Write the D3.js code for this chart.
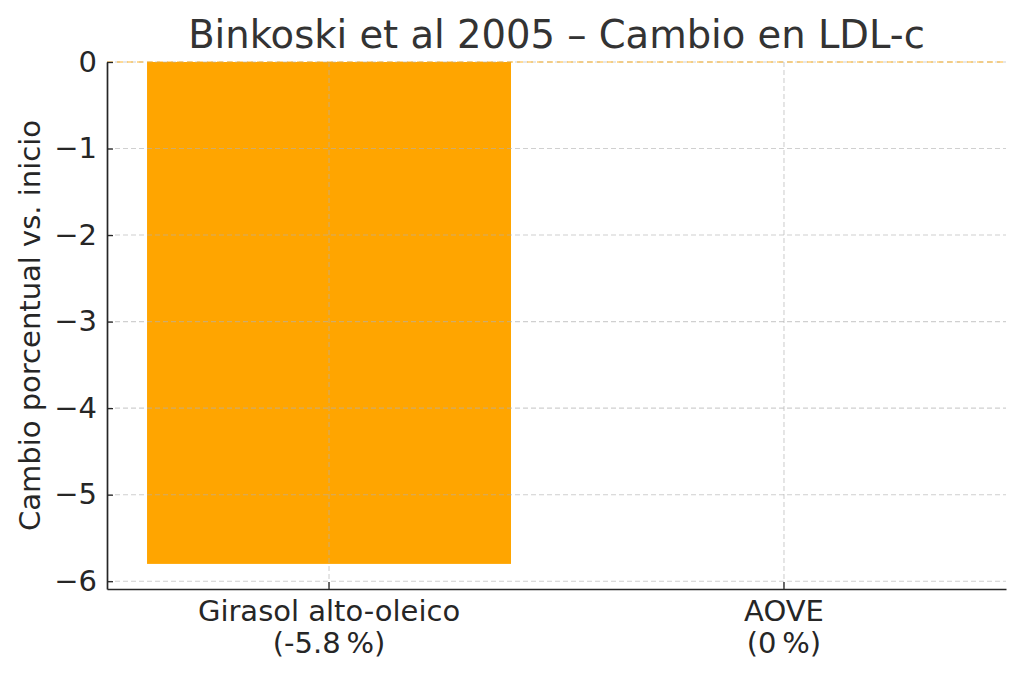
<!DOCTYPE html>
<html>
<head>
<meta charset="utf-8">
<script src="https://cdn.jsdelivr.net/npm/d3@7"></script>
<style>
  body { margin: 0; background: #fff; }
  text { font-family: "DejaVu Sans", sans-serif; }
</style>
</head>
<body>
<div id="chart"></div>
<script>
// Data.
var categories = ["Girasol alto-oleico", "AOVE"];
var changes = [-5.8, 0];
var labelLines = [["Girasol alto-oleico", "(-5.8\u2009%)"], ["AOVE", "(0\u2009%)"]];
var yTicks = [0, -1, -2, -3, -4, -5, -6];

var svgWidth = 1024;
var svgHeight = 677;

var margin = { top: 62, right: 18, bottom: 88, left: 107 };
var width = svgWidth - margin.left - margin.right;
var height = svgHeight - margin.top - margin.bottom;

var svg = d3.select("#chart")
    .append("svg")
    .attr("width", svgWidth)
    .attr("height", svgHeight);

var chartGroup = svg.append("g")
    .attr("transform", `translate(${margin.left}, ${margin.top})`);

// Scales.
var xScale = d3.scaleBand()
    .domain(categories)
    .range([0, width])
    .paddingInner(0.2)
    .paddingOuter(0.088);

var yScale = d3.scaleLinear()
    .domain([-6.09, 0])
    .range([height, 0]);

// Bars.
chartGroup.selectAll("rect.bar")
    .data(changes)
    .enter()
    .append("rect")
    .attr("class", "bar")
    .attr("x", (d, i) => xScale(categories[i]))
    .attr("y", d => yScale(Math.max(0, d)))
    .attr("width", xScale.bandwidth())
    .attr("height", d => Math.abs(yScale(d) - yScale(0)))
    .attr("fill", "#ffa500");

// Grid (drawn over the bars).
var gridGroup = chartGroup.append("g");
gridGroup.selectAll("line.hgrid")
    .data(yTicks)
    .enter()
    .append("line")
    .attr("x1", 0)
    .attr("x2", width)
    .attr("y1", d => yScale(d))
    .attr("y2", d => yScale(d))
    .attr("stroke", "#b0b0b0")
    .attr("stroke-opacity", 0.6)
    .attr("stroke-width", 1.1)
    .attr("stroke-dasharray", "5,3");

gridGroup.selectAll("line.vgrid")
    .data(categories)
    .enter()
    .append("line")
    .attr("x1", d => xScale(d) + xScale.bandwidth() / 2)
    .attr("x2", d => xScale(d) + xScale.bandwidth() / 2)
    .attr("y1", 0)
    .attr("y2", height)
    .attr("stroke", "#b0b0b0")
    .attr("stroke-opacity", 0.6)
    .attr("stroke-width", 1.1)
    .attr("stroke-dasharray", "5,3");

// Zero reference line.
chartGroup.append("line")
    .attr("x1", 0)
    .attr("x2", width)
    .attr("y1", yScale(0))
    .attr("y2", yScale(0))
    .attr("stroke", "#ffa500")
    .attr("stroke-opacity", 0.55)
    .attr("stroke-width", 1.4)
    .attr("stroke-dasharray", "6,4");

// Axes: ticks point inward.
var leftAxis = d3.axisLeft(yScale)
    .tickValues(yTicks)
    .tickSizeInner(-6)
    .tickSizeOuter(0)
    .tickPadding(10)
    .tickFormat(d => d === 0 ? "0" : "\u2212" + Math.abs(d));

var bottomAxis = d3.axisBottom(xScale)
    .tickSizeInner(-7)
    .tickSizeOuter(0)
    .tickFormat("");

var yAxis = chartGroup.append("g")
    .call(leftAxis);

var xAxis = chartGroup.append("g")
    .attr("transform", `translate(0, ${height})`)
    .call(bottomAxis);

[yAxis, xAxis].forEach(function(ax) {
    ax.select(".domain").attr("stroke", "#262626").attr("stroke-width", 1.7);
    ax.selectAll(".tick line").attr("stroke", "#262626").attr("stroke-width", 1.3);
});

yAxis.selectAll(".tick text")
    .style("font-size", "29px")
    .attr("fill", "#262626")
    .attr("x", -10);

// Two-line category labels.
var catLabels = chartGroup.selectAll("text.cat")
    .data(labelLines)
    .enter()
    .append("text")
    .attr("class", "cat")
    .attr("text-anchor", "middle")
    .attr("fill", "#262626")
    .style("font-size", "29px")
    .attr("x", (d, i) => xScale(categories[i]) + xScale.bandwidth() / 2)
    .attr("y", height + 32);

catLabels.selectAll("tspan")
    .data((d, i) => d.map(t => ({ t: t, x: xScale(categories[i]) + xScale.bandwidth() / 2 })))
    .enter()
    .append("tspan")
    .attr("x", d => d.x)
    .attr("dy", (d, j) => j === 0 ? 0 : 32)
    .text(d => d.t);

// Y label.
svg.append("text")
    .attr("transform", `translate(40, ${margin.top + height / 2}) rotate(-90)`)
    .attr("text-anchor", "middle")
    .attr("fill", "#262626")
    .style("font-size", "29px")
    .text("Cambio porcentual vs. inicio");

// Title.
svg.append("text")
    .attr("x", margin.left + width / 2)
    .attr("y", 48)
    .attr("text-anchor", "middle")
    .attr("fill", "#333333")
    .style("font-size", "38.5px")
    .text("Binkoski et al 2005 \u2013 Cambio en LDL-c");
</script>
</body>
</html>
